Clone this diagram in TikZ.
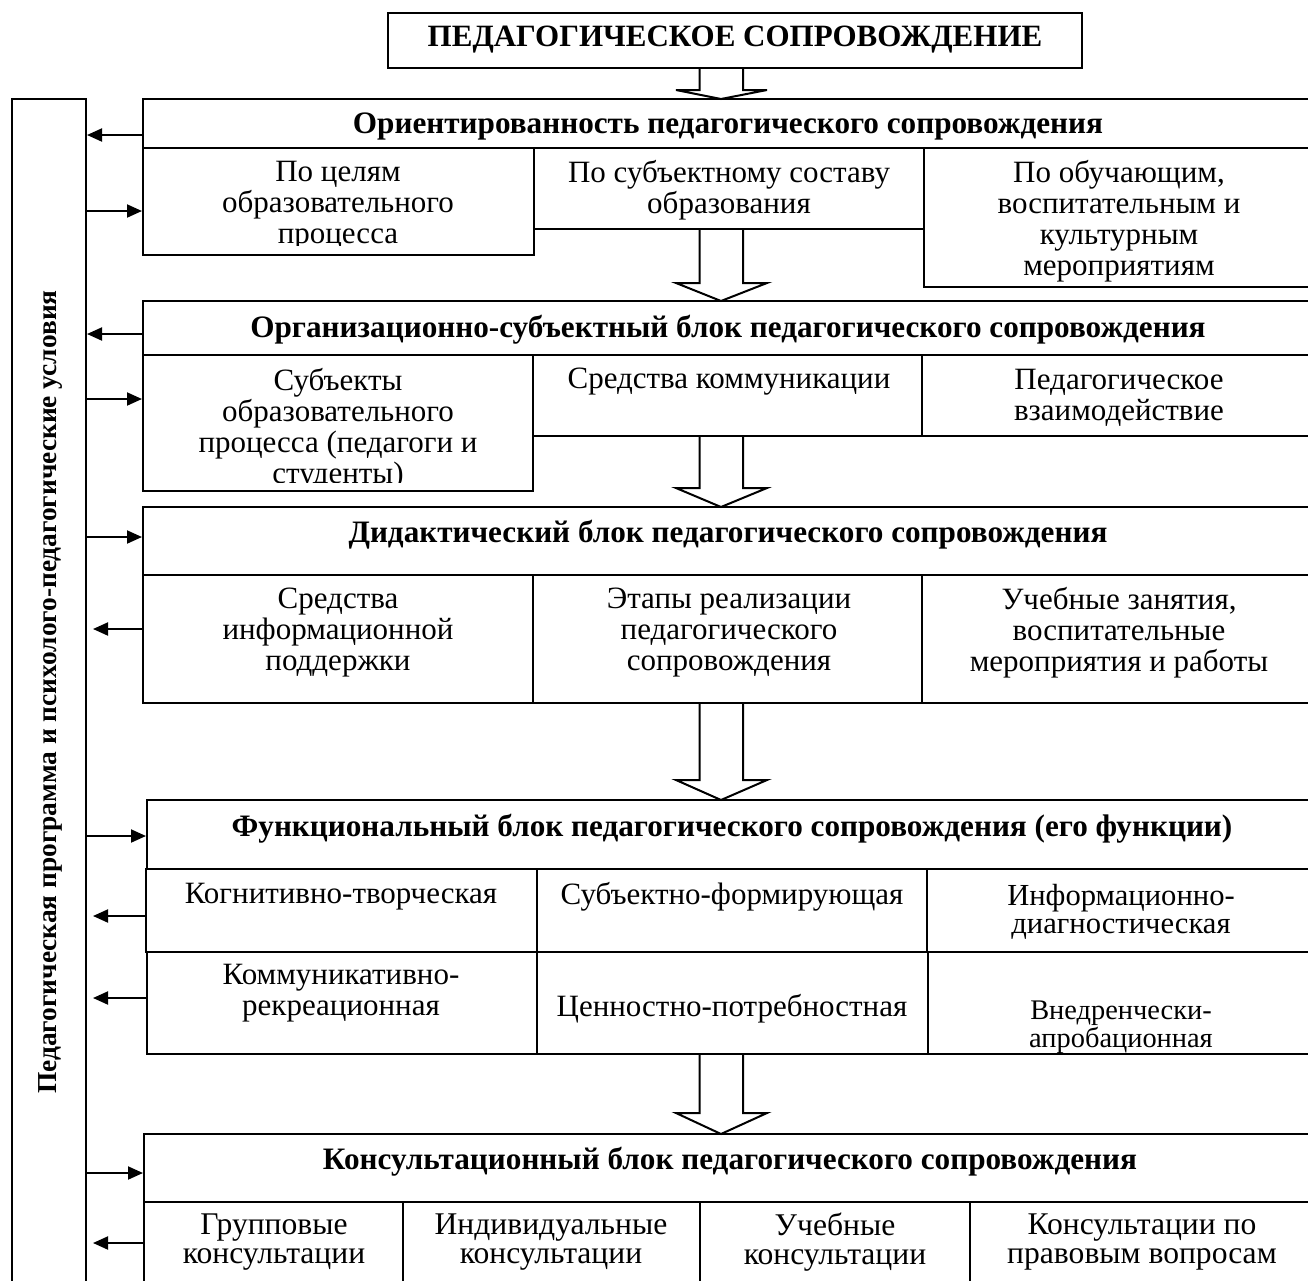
\documentclass[tikz,border=0pt]{standalone}
\usepackage{fontspec}
\setmainfont{Liberation Serif}
\usetikzlibrary{fit,calc,arrows.meta}
\newcommand\hollowarrow[3]{%
  \draw[hollow] ($(#2|-#1)+(-21.5,0)$) -- ($(#2)+(-21.5,-#3)$) -- ($(#2)+(-45,-#3)$) -- (#2)
     -- ($(#2)+(46,-#3)$) -- ($(#2)+(22,-#3)$) -- ($(#2|-#1)+(22,0)$);}
\begin{document}
\begin{tikzpicture}[x=0.5pt,y=-0.5pt,
  box/.style={draw, line width=1pt, inner sep=0pt},
  txt/.style={font=\fontsize{15.5}{15.5}\selectfont, align=center, inner sep=0pt},
  hdr/.style={font=\fontsize{15.6}{17}\selectfont\bfseries, align=center, inner sep=0pt},
  arr/.style={line width=1pt, -{Triangle[length=7.5pt,width=6.5pt]}},
  hollow/.style={draw, line width=1pt, fill=white, line join=miter}]
\clip (0,0) rectangle (1308,1281);
\fill[white] (0,0) rectangle (1308,1281);

% title
\node[box, fit={(388,13)(1082,68)}] (top) {};
\node[hdr, font=\fontsize{15.5}{17}\selectfont\bfseries] (toptxt) at (735,40) {ПЕДАГОГИЧЕСКОЕ СОПРОВОЖДЕНИЕ};

% left program box
\node[box, fit={(12,99)(86,1300)}] (prog) {};
\node[hdr, rotate=90, font=\fontsize{13.7}{15}\selectfont\bfseries] (progtxt) at (50,692) {Педагогическая программа и психолого-педагогические условия};

% block 1
\node[box, fit={(143,99)(1314,148)}] (h1) {};
\node[box, fit={(143,148)(534,255)}] (r1a) {};
\node[box, fit={(534,148)(924,229)}] (r1b) {};
\node[box, fit={(924,148)(1314,287)}] (r1c) {};
\node[hdr] (h1t) at (728,126) {Ориентированность педагогического сопровождения};
\begin{scope}
  \clip (143,148) rectangle (534,245);
  \node[txt] (r1at) at (338,206) {По целям\\образовательного\\процесса};
\end{scope}
\node[txt] (r1bt) at (729,190) {По субъектному составу\\образования};
\node[txt] (r1ct) at (1119,221) {По обучающим,\\воспитательным и\\культурным\\мероприятиям};

% block 2
\node[box, fit={(143,301)(1314,355)}] (h2) {};
\node[box, fit={(143,355)(533,491)}] (r2a) {};
\node[box, fit={(533,355)(922,436)}] (r2b) {};
\node[box, fit={(922,355)(1314,436)}] (r2c) {};
\node[hdr] (h2t) at (728,330) {Организационно-субъектный блок педагогического сопровождения};
\begin{scope}
  \clip (143,355) rectangle (533,482);
  \node[txt] (r2at) at (338,429) {Субъекты\\образовательного\\процесса (педагоги и\\студенты)};
\end{scope}
\node[txt] (r2bt) at (729,382) {Средства коммуникации};
\node[txt] (r2ct) at (1119,398) {Педагогическое\\взаимодействие};

% block 3
\node[box, fit={(143,507)(1314,575)}] (h3) {};
\node[box, fit={(143,575)(533,703)}] (r3a) {};
\node[box, fit={(533,575)(922,703)}] (r3b) {};
\node[box, fit={(922,575)(1314,703)}] (r3c) {};
\node[hdr] (h3t) at (728,535) {Дидактический блок педагогического сопровождения};
\node[txt] (r3at) at (338,633) {Средства\\информационной\\поддержки};
\node[txt] (r3bt) at (729,633) {Этапы реализации\\педагогического\\сопровождения};
\node[txt] (r3ct) at (1119,633) {Учебные занятия,\\воспитательные\\мероприятия и работы};

% block 4
\node[box, fit={(147,800)(1314,869)}] (h4) {};
\node[box, fit={(146,869)(537,952)}] (r4a) {};
\node[box, fit={(537,869)(927,952)}] (r4b) {};
\node[box, fit={(927,869)(1314,952)}] (r4c) {};
\node[box, fit={(147,952)(537,1054)}] (r4d) {};
\node[box, fit={(537,952)(928,1054)}] (r4e) {};
\node[box, fit={(928,952)(1314,1054)}] (r4f) {};
\node[hdr] (h4t) at (732,829) {Функциональный блок педагогического сопровождения (его функции)};
\node[txt] (r4at) at (341,897) {Когнитивно-творческая};
\node[txt] (r4bt) at (732,897) {Субъектно-формирующая};
\node[txt, font=\fontsize{15.3}{14}\selectfont] (r4ct) at (1121,912) {Информационно-\\диагностическая};
\node[txt] (r4dt) at (341,993) {Коммуникативно-\\рекреационная};
\node[txt] (r4et) at (732,1009) {Ценностно-потребностная};
\node[txt, font=\fontsize{14.2}{11.5}\selectfont] (r4ft) at (1121,1027) {Внедренчески-\\апробационная};

% block 5
\node[box, fit={(144,1134)(1314,1202)}] (h5) {};
\node[box, fit={(144,1202)(403,1300)}] (r5a) {};
\node[box, fit={(403,1202)(700,1300)}] (r5b) {};
\node[box, fit={(700,1202)(970,1300)}] (r5c) {};
\node[box, fit={(970,1202)(1314,1300)}] (r5d) {};
\node[hdr] (h5t) at (730,1162) {Консультационный блок педагогического сопровождения};
\node[txt, font=\fontsize{15.8}{14.5}\selectfont] (r5at) at (274,1242) {Групповые\\консультации};
\node[txt, font=\fontsize{15.8}{14.5}\selectfont] (r5bt) at (551,1242) {Индивидуальные\\консультации};
\node[txt, font=\fontsize{15.8}{14.5}\selectfont] (r5ct) at (835,1242) {Учебные\\консультации};
\node[txt, font=\fontsize{15.8}{14.5}\selectfont] (r5dt) at (1142,1242) {Консультации по\\правовым вопросам};

% hollow arrows between blocks
\coordinate (t1) at (721,99);
\coordinate (t2) at (721,301);
\coordinate (t3) at (721,507);
\coordinate (t4) at (721,800);
\coordinate (t5) at (721,1134);
\hollowarrow{top.south}{t1}{9}
\hollowarrow{r1b.south}{t2}{18}
\hollowarrow{r2b.south}{t3}{19}
\hollowarrow{r3b.south}{t4}{20}
\hollowarrow{r4e.south}{t5}{21}

% side connectors
\draw[arr] (h1.west |- 0,135) -- (prog.east |- 0,135);
\draw[arr] (prog.east |- 0,211) -- (r1a.west |- 0,211);
\draw[arr] (h2.west |- 0,334) -- (prog.east |- 0,334);
\draw[arr] (prog.east |- 0,399) -- (r2a.west |- 0,399);
\draw[arr] (prog.east |- 0,537) -- (h3.west |- 0,537);
\draw[arr, shorten >=3pt] (r3a.west |- 0,629) -- (prog.east |- 0,629);
\draw[arr] (prog.east |- 0,836) -- (h4.west |- 0,836);
\draw[arr, shorten >=3pt] (r4a.west |- 0,916) -- (prog.east |- 0,916);
\draw[arr, shorten >=3pt] (r4d.west |- 0,998) -- (prog.east |- 0,998);
\draw[arr] (prog.east |- 0,1173) -- (h5.west |- 0,1173);
\draw[arr, shorten >=3pt] (r5a.west |- 0,1243) -- (prog.east |- 0,1243);
\end{tikzpicture}
\end{document}
